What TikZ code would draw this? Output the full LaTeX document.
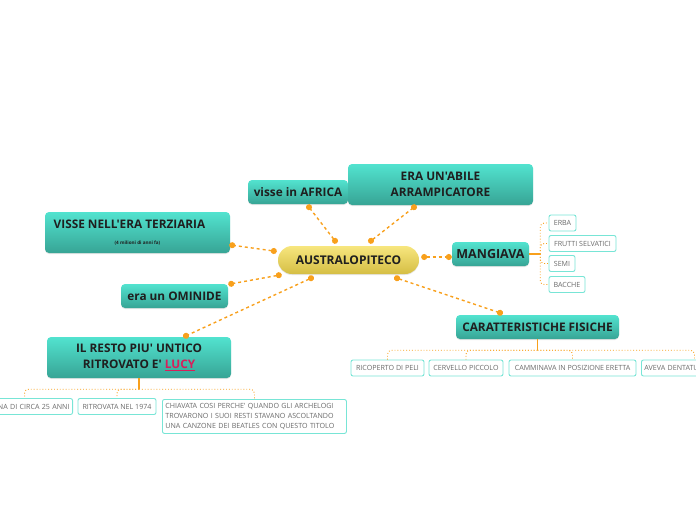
\documentclass[tikz,border=0pt]{standalone}
\usepackage{fontspec}
\setmainfont{Open Sans}[Ligatures=TeXOff]
\usetikzlibrary{arrows.meta,shadows}
\definecolor{topictop}{HTML}{52E3CF}
\definecolor{topicbot}{HTML}{37A495}
\definecolor{maintop}{HTML}{F7E67E}
\definecolor{mainbot}{HTML}{D5BE44}
\definecolor{linkor}{HTML}{F8A01C}
\definecolor{leafline}{HTML}{78E5D6}
\definecolor{leaftext}{HTML}{6A6A6A}
\definecolor{lucyred}{HTML}{D81E5B}
\tikzset{
  topic/.style={rounded corners=4pt, top color=topictop, bottom color=topicbot,
    inner sep=0pt, text=black!88, align=center,
    font=\bfseries\fontsize{11.8}{16}\selectfont,
    drop shadow={shadow xshift=0pt, shadow yshift=-1pt, opacity=0.2}},
  mainnode/.style={rounded corners=14pt, top color=maintop, bottom color=mainbot,
    inner sep=0pt, text=black!88, font=\bfseries\fontsize{12}{14}\selectfont,
    drop shadow={shadow xshift=0pt, shadow yshift=-1pt, opacity=0.2}},
  leaf/.style={draw=leafline, line width=0.9pt, fill=white, rounded corners=2pt,
    inner xsep=3pt, inner ysep=2pt, minimum height=16pt, text=leaftext,
    font=\fontsize{7.1}{9.6}\selectfont},
  link/.style={draw=linkor, line width=1.4pt, dash pattern=on 3pt off 3pt,
    {Circle[length=6pt]}-{Circle[length=6pt]}, shorten <=-3pt, shorten >=-3pt},
  branch/.style={draw=linkor, line width=0.9pt, dotted, rounded corners=4pt},
  stem/.style={draw=linkor, line width=1.6pt}
}
\begin{document}
\begin{tikzpicture}[x=1pt,y=-1pt]
  \clip (0,0) rectangle (696,520);
  \node[mainnode, minimum width=141pt, minimum height=28pt] (aus) at (348.5,260) {AUSTRALOPITECO};
  \node[topic, minimum width=100pt, minimum height=24pt] (africa) at (298,192) {visse in AFRICA};
  \node[topic, minimum width=185pt, minimum height=41pt] (abile) at (440.5,184.5) {ERA UN'ABILE\\ARRAMPICATORE};
  \node[topic, minimum width=185pt, minimum height=41pt] (terz) at (137.5,232.5) {};
  \node[font=\bfseries\fontsize{11.8}{14}\selectfont, text=black!88] (terzt) at (129.5,224.5) {VISSE NELL'ERA TERZIARIA};
  \node[font=\bfseries\fontsize{4.6}{6}\selectfont, text=black!88] (terzs) at (137.5,243.5) {(4 milioni di anni fa)};
  \node[topic, minimum width=107pt, minimum height=24pt] (omin) at (174.5,296) {era un OMINIDE};
  \node[topic, minimum width=184pt, minimum height=41pt] (lucy) at (139,357.5) {IL RESTO PIU' UNTICO\\RITROVATO E' {\color{lucyred}\underline{LUCY}}};
  \node[topic, minimum width=77pt, minimum height=24pt, font=\bfseries\fontsize{12.5}{15}\selectfont] (mang) at (490.5,254) {MANGIAVA};
  \node[topic, minimum width=163pt, minimum height=24pt] (car) at (537.5,327) {CARATTERISTICHE FISICHE};

  % foglie di MANGIAVA
  \node[leaf, minimum width=27pt] (erba) at (562.5,223) {ERBA};
  \node[leaf, minimum width=67pt] (frutti) at (582.5,243.5) {FRUTTI SELVATICI};
  \node[leaf, minimum width=26pt] (semi) at (562,263.5) {SEMI};
  \node[leaf, minimum width=36pt] (bacche) at (567,284.5) {BACCHE};

  % foglie di CARATTERISTICHE FISICHE
  \node[leaf, minimum width=73pt] (peli) at (387.5,368) {RICOPERTO DI PELI};
  \node[leaf, minimum width=74pt] (cerv) at (466,368) {CERVELLO PICCOLO};
  \node[leaf, minimum width=127pt] (camm) at (572.5,368) {CAMMINAVA IN POSIZIONE ERETTA};
  \node[leaf, anchor=west, text width=100pt, align=left] (dent) at (641,368) {AVEVA DENTATU};

  % foglie di LUCY
  \node[leaf, anchor=east, text width=90pt, align=right] (donna) at (73,406.5) {NA DI CIRCA 25 ANNI};
  \node[leaf, minimum width=78pt] (ritr) at (117,406.5) {RITROVATA NEL 1974};
  \node[leaf, anchor=north west, text width=178pt, align=left, inner ysep=3pt, minimum height=34pt] (chiav) at (162,399)
    {CHIAVATA COSI PERCHE' QUANDO GLI ARCHELOGI\\TROVARONO I SUOI RESTI STAVANO ASCOLTANDO\\UNA CANZONE DEI BEATLES CON QUESTO TITOLO};

  \draw[link] ([shift={(-13.5,-5)}]aus.north) -- ([shift={(11,3)}]africa.south);
  \draw[link] ([shift={(22.5,-5)}]aus.north) -- ([shift={(-26.5,2)}]abile.south);
  \draw[link] ([shift={(-4,-9)}]aus.west) -- ([shift={(2,-8)}]terz.south east);
  \draw[link] ([shift={(1,1)}]aus.south west) -- ([shift={(3,0)}]omin.north east);
  \draw[link] ([shift={(-37.5,4)}]aus.south) -- ([shift={(47,-1)}]lucy.north);
  \draw[link] ([shift={(5,-3)}]aus.east) -- ([shift={(-3,3)}]mang.west);
  \draw[link] ([shift={(48.5,4)}]aus.south) -- ([shift={(-37.5,-2)}]car.north);

  \coordinate (mangb) at ([xshift=11pt]mang.east);
  \draw[stem] (mang.east) -- (mangb);
  \foreach \n in {erba,frutti,semi,bacche}
    \draw[branch] (mangb) |- (\n.west);

  \coordinate (carb) at ([yshift=-11pt]car.south);
  \draw[stem] (car.south) -- (carb);
  \foreach \n in {peli,cerv,camm,dent}
    \draw[branch] (carb) -| (\n.north);

  \coordinate (lucyb) at ([yshift=-11pt]lucy.south);
  \draw[stem] (lucy.south) -- (lucyb);
  \foreach \n in {donna,ritr,chiav}
    \draw[branch] (lucyb) -| (\n.north);
\end{tikzpicture}
\end{document}
